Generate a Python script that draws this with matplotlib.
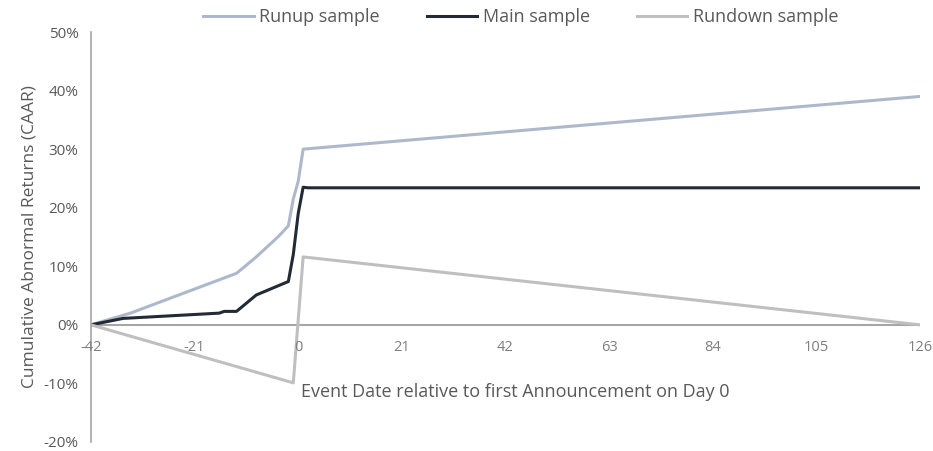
import matplotlib.pyplot as plt
from matplotlib.ticker import PercentFormatter

# --- Datos ---
dias_runup = [-42, -34, -12.5, -8.5, -4, -2, -1, 0, 1, 126]
caar_runup = [0.0, 0.02, 0.088, 0.116, 0.151, 0.169, 0.215, 0.245, 0.300, 0.390]

dias_main = [-42, -35.5, -16, -15, -12.5, -8.5, -2, -1, 0, 1, 2, 126]
caar_main = [0.0, 0.011, 0.020, 0.023, 0.023, 0.051, 0.074, 0.12, 0.19, 0.235, 0.234, 0.234]

dias_rundown = [-42, -1, 1, 126]
caar_rundown = [0.0, -0.099, 0.116, 0.0]

ticks_x = [-42, -21, 0, 21, 42, 63, 84, 105, 126]
ticks_y = [-0.2, -0.1, 0.0, 0.1, 0.2, 0.3, 0.4, 0.5]

gris_texto = '#595959'
gris_ticks_x = '#7F7F7F'
gris_eje = '#A6A6A6'

plt.rcParams['font.family'] = ['Open Sans', 'DejaVu Sans']
plt.rcParams['axes.unicode_minus'] = False   # guion simple como en Excel

fig = plt.figure(figsize=(9.33, 4.51), dpi=100)
ax = fig.add_axes([0.0975, 0.02, 0.8885, 0.909])

ax.plot(dias_runup, caar_runup, color='#ADB9CA', lw=2.2, label='Runup sample')
ax.plot(dias_main, caar_main, color='#222A35', lw=2.2, label='Main sample')
ax.plot(dias_rundown, caar_rundown, color='#BFBFBF', lw=2.2, label='Rundown sample')

ax.set_xlim(-42, 126)
ax.set_ylim(-0.2, 0.5)
ax.set_yticks(ticks_y)
ax.yaxis.set_major_formatter(PercentFormatter(1.0, decimals=0))
ax.set_xticks(ticks_x)
ax.tick_params(axis='both', length=0, labelsize=11, labelcolor=gris_texto)
ax.tick_params(axis='y', pad=9)

# eje horizontal en y=0 y etiquetas debajo de él
for lado in ['top', 'right', 'bottom']:
    ax.spines[lado].set_visible(False)
ax.spines['left'].set_color(gris_eje)
ax.spines['left'].set_linewidth(1.2)
ax.axhline(0, color=gris_eje, lw=1.5, zorder=1)
ax.set_xticklabels([])
for t in ticks_x:
    ax.annotate(str(t), xy=(t, 0), xytext=(0, -11), textcoords='offset points',
                ha='center', va='top', fontsize=10.5, color=gris_ticks_x)

ax.set_ylabel('Cumulative Abnormal Returns (CAAR)', fontsize=12.5, color=gris_texto, labelpad=4)
ax.text(0.5, -0.115, 'Event Date relative to first Announcement on Day 0',
        fontsize=13, color=gris_texto, ha='left', va='center')

fig.legend(loc='center', bbox_to_anchor=(0.558, 0.962), ncol=3, frameon=False,
           fontsize=13, labelcolor=gris_texto, handlelength=2.8, columnspacing=2.6,
           handletextpad=0.3)

fig.savefig('out.png', dpi=100)
